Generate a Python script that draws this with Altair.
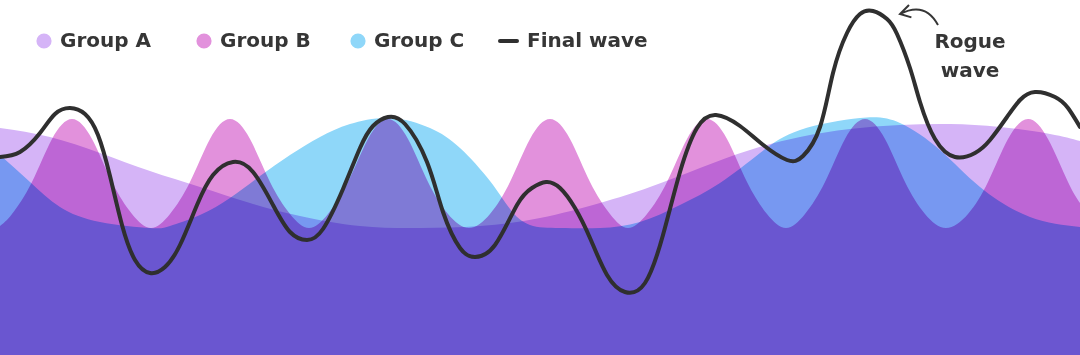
import altair as alt
import pandas as pd

# Wave heights measured from the bottom edge of the plot (0..355)
a_x = [0, 50, 100, 150, 200, 250, 300, 360, 420, 480, 540, 600, 650, 700, 750, 800, 850, 900, 950, 1000, 1050, 1080]
a_h = [227, 218, 202, 184, 168, 152, 139, 129, 127, 129, 137, 152, 168, 187, 205, 218, 226, 230, 231, 228, 221, 214]

b_x = [0, 12, 32, 52, 72, 92, 112, 132, 151, 170, 190, 210, 230, 250, 270, 290, 309,
       328, 348, 368, 388, 408, 428, 448, 469, 490, 510, 530, 550, 570, 590, 610, 628,
       647, 667, 687, 707, 727, 747, 767, 786, 805, 825, 845, 865, 885, 905, 925, 946,
       968, 988, 1008, 1028, 1048, 1068, 1080]
b_h = [129, 141, 173, 216, 236, 216, 173, 141, 127, 141, 173, 216, 236, 216, 173, 141, 127,
       141, 173, 216, 236, 216, 173, 141, 127, 141, 173, 216, 236, 216, 173, 141, 127,
       141, 173, 216, 236, 216, 173, 141, 127, 141, 173, 216, 236, 216, 173, 141, 127,
       141, 173, 216, 236, 216, 173, 152]

c_x = [0, 30, 60, 100, 150, 170, 200, 230, 260, 290, 320, 350, 390, 430, 460, 490, 510, 530,
       560, 600, 640, 680, 720, 760, 800, 860, 900, 940, 980, 1030, 1080]
c_h = [200, 173, 148, 133, 127, 129, 140, 157, 179, 200, 218, 231, 237, 227, 207, 174, 146, 130,
       127, 127, 133, 150, 172, 202, 225, 237, 232, 205, 168, 138, 128]

# Final wave (sum of the three groups)
f_x = [0, 20, 40, 55, 70, 85, 98, 110, 122, 135, 150, 165, 180, 197, 213, 233, 253, 273, 290,
       307, 323, 343, 360, 373, 388, 405, 427, 443, 460, 475, 495, 517, 532, 546, 560, 575,
       590, 607, 625, 645, 663, 680, 697, 716, 740, 762, 787, 803, 820, 833, 847, 860, 873,
       887, 897, 910, 920, 935, 955, 975, 990, 1007, 1020, 1035, 1055, 1068, 1080]
f_h = [198, 203, 222, 241, 247, 241, 220, 179, 130, 95, 82, 88, 110, 150, 180, 193, 183, 150, 123,
       115, 126, 166, 207, 229, 238, 231, 193, 143, 107, 98, 110, 150, 167, 173, 167, 147,
       117, 80, 63, 72, 120, 183, 227, 240, 229, 211, 195, 199, 228, 282, 322, 341, 344,
       336, 321, 287, 253, 216, 198, 202, 215, 238, 255, 263, 258, 247, 228]

group_names = ["Group A", "Group B", "Group C"]
group_colors = ["#d5b4f7", "#e291dc", "#8fd7f9"]
line_name = "Final wave"
line_color = "#2f2f2f"
note_lines = ["Rogue", "wave"]

W, H = 1080, 355
FONT = "DejaVu Sans"
TEXT_COLOR = "#363636"
CURVE = "natural"

x_scale = alt.Scale(domain=[0, 1080], nice=False, zero=False)
y_scale = alt.Scale(domain=[0, 355], nice=False)


def series(xs, hs):
    return pd.DataFrame({"x": xs, "h": hs})


def wave(df, color):
    return alt.Chart(df).mark_area(
        color=color, blend="multiply", interpolate=CURVE
    ).encode(
        x=alt.X("x:Q", scale=x_scale, axis=None),
        y=alt.Y("h:Q", scale=y_scale, axis=None),
    )


areas = [
    wave(series(a_x, a_h), group_colors[0]),
    wave(series(b_x, b_h), group_colors[1]),
    wave(series(c_x, c_h), group_colors[2]),
]

final_line = alt.Chart(series(f_x, f_h)).mark_line(
    color=line_color, strokeWidth=4, interpolate=CURVE, strokeCap="round"
).encode(
    x=alt.X("x:Q", scale=x_scale, axis=None),
    y=alt.Y("h:Q", scale=y_scale, axis=None),
)

blank = pd.DataFrame({"k": [0]})


def label(text, x, y, align="left", size=20):
    return alt.Chart(blank).mark_text(
        text=text, align=align, baseline="middle", font=FONT, fontSize=size,
        fontWeight="bold", color=TEXT_COLOR
    ).encode(x=alt.value(x), y=alt.value(y))


def dot(color, x, y):
    return alt.Chart(blank).mark_point(
        shape="circle", filled=True, opacity=1, size=230, color=color
    ).encode(x=alt.value(x), y=alt.value(y))


legend = []
for name, color, cx in zip(group_names, group_colors, [44, 204, 358]):
    legend.append(dot(color, cx, 41))
    legend.append(label(name, cx + 16, 41))

legend.append(
    alt.Chart(blank).mark_rule(color=line_color, strokeWidth=4, strokeCap="round").encode(
        x=alt.value(500), x2=alt.value(517), y=alt.value(41)
    )
)
legend.append(label(line_name, 527, 41))

note = [
    label(note_lines[0], 970, 42, align="center"),
    label(note_lines[1], 970, 71, align="center"),
    alt.Chart(blank).mark_point(
        shape="M0.95,0.5 Q0.3,-0.7 -0.95,-0.05 M-0.5,-0.5 L-0.95,-0.05 L-0.38,0.12",
        filled=False, size=1600, strokeWidth=2, color=TEXT_COLOR, opacity=1,
    ).encode(x=alt.value(919), y=alt.value(15)),
]

chart = alt.layer(*areas, final_line, *legend, *note).properties(
    width=W, height=H, padding=0, autosize=alt.AutoSizeParams(type="none"), background="white"
).configure_view(stroke=None)

chart.save("out.html", embed_options={"renderer": "svg", "actions": False})
